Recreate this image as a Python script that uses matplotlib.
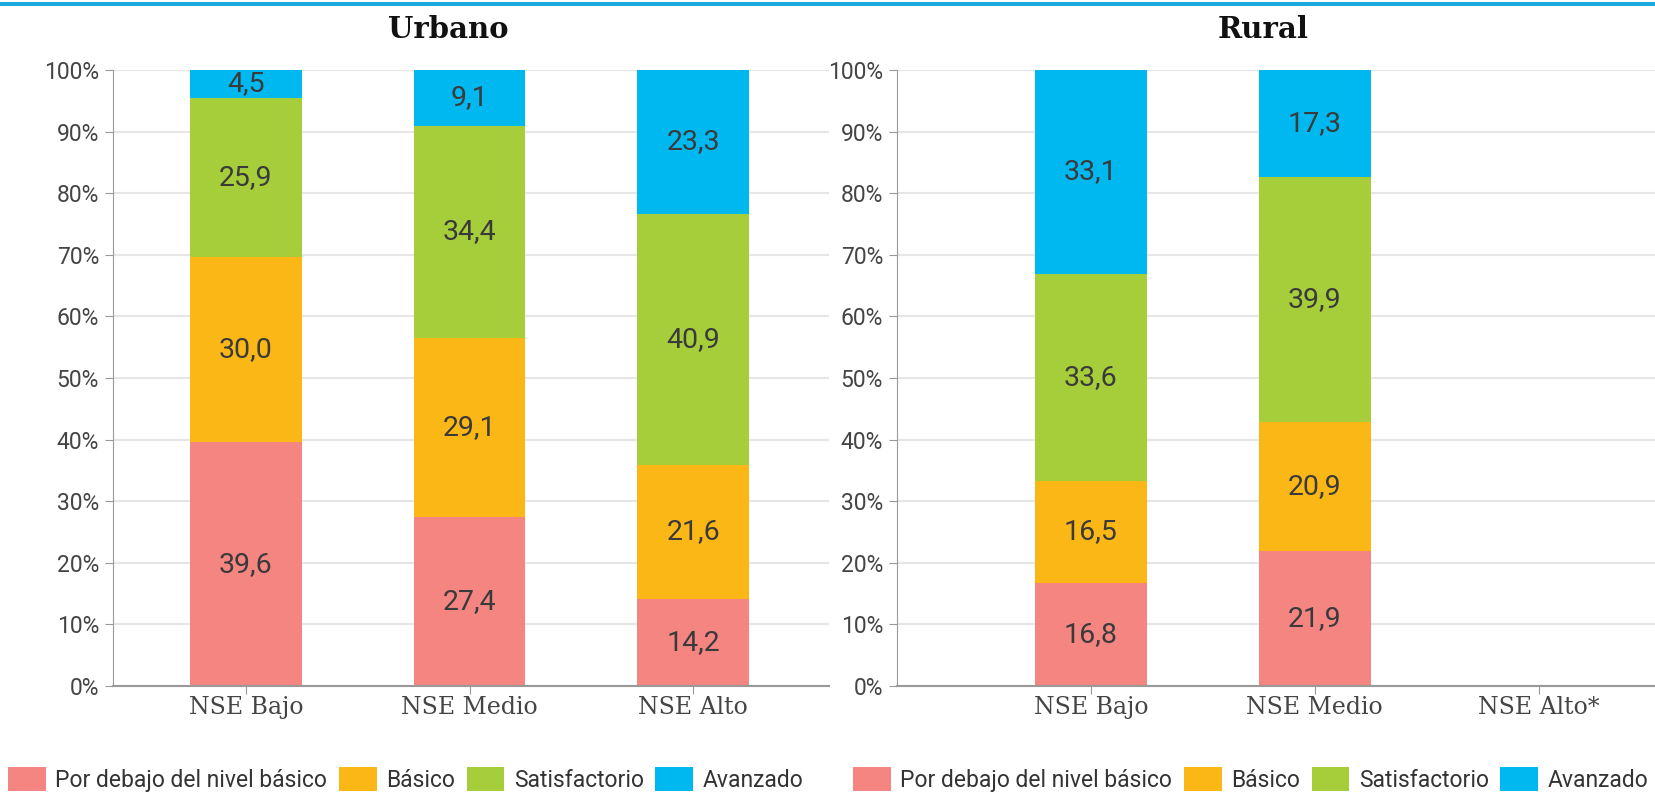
import numpy as np
import matplotlib
matplotlib.use("Agg")
import matplotlib.pyplot as plt
from matplotlib.patches import Patch, Rectangle

# ---- data ----
levels = ["Por debajo del nivel básico", "Básico", "Satisfactorio", "Avanzado"]
colors = ["#F48581", "#FBB715", "#A6CD3A", "#00B8F0"]

urb_categories = ["NSE Bajo", "NSE Medio", "NSE Alto"]
urb_below = [39.6, 27.4, 14.2]
urb_basic = [30.0, 29.1, 21.6]
urb_satis = [25.9, 34.4, 40.9]
urb_adv = [4.5, 9.1, 23.3]

rur_categories = ["NSE Bajo", "NSE Medio", "NSE Alto*"]
rur_below = [16.8, 21.9, np.nan]
rur_basic = [16.5, 20.9, np.nan]
rur_satis = [33.6, 39.9, np.nan]
rur_adv = [33.1, 17.3, np.nan]

yticks = [0, 10, 20, 30, 40, 50, 60, 70, 80, 90, 100]

W, H = 1655, 792
fig = plt.figure(figsize=(W / 100, H / 100), dpi=100)

TXT = "#444444"
SANS = "Roboto"
SERIF = "DejaVu Serif"


def fx(px):
    return px / W


def fy(py):
    return 1 - py / H


def panel(rect, cats, series, title, title_x):
    ax = fig.add_axes(rect)
    x = np.arange(len(cats))
    bottom = np.zeros(len(cats))
    for vals, col in zip(series, colors):
        v = np.array(vals, dtype=float)
        ax.bar(x, np.nan_to_num(v), width=0.5, bottom=bottom, color=col, zorder=2)
        for xi, (b, h) in enumerate(zip(bottom, v)):
            if not np.isnan(h):
                ax.text(xi, b + h / 2, f"{h:.1f}".replace(".", ","), ha="center",
                        va="center", fontsize=20.5, color="#3a3a3a", family=SANS,
                        fontweight="normal", zorder=3)
        bottom = bottom + np.nan_to_num(v)
    ax.set_ylim(0, 100)
    ax.set_yticks(yticks)
    ax.set_yticklabels([f"{t}%" for t in yticks], family=SANS, fontsize=16.5,
                       color=TXT, fontweight="normal")
    ax.set_xticks(x)
    ax.set_xticklabels(cats, family=SERIF, fontsize=17, color=TXT)
    ax.grid(axis="y", color="#e6e6e6", linewidth=1.5, zorder=0)
    ax.set_axisbelow(True)
    for s in ["top", "right"]:
        ax.spines[s].set_visible(False)
    ax.spines["left"].set_color("#999999")
    ax.spines["bottom"].set_color("#999999")
    ax.spines["bottom"].set_linewidth(1.5)
    ax.tick_params(axis="y", length=6, color="#999999", pad=4)
    ax.tick_params(axis="x", length=6, color="#999999", pad=1)
    fig.text(title_x, fy(30), title, ha="center", va="center", family=SERIF,
             fontweight="bold", fontsize=21, color="#111111")
    return ax


ax1 = panel([fx(113), fy(686), fx(829 - 113), (686 - 70) / H], urb_categories,
            [urb_below, urb_basic, urb_satis, urb_adv], "Urbano", fx(448))
ax1.set_xlim(-0.594, 2.607)
ax2 = panel([fx(897), fy(686), fx(1655 - 897), (686 - 70) / H], rur_categories,
            [rur_below, rur_basic, rur_satis, rur_adv], "Rural", fx(1263))
ax2.set_xlim(-0.866, 2.52)

handles = [Patch(facecolor=c, edgecolor="none") for c in colors]
for xa in [fx(8), fx(853)]:
    leg = fig.legend(handles, levels, loc="lower left", bbox_to_anchor=(xa, 0.0),
                     ncol=4, frameon=False, borderpad=0, borderaxespad=0,
                     handlelength=1.65, handleheight=1.25, handletextpad=0.42,
                     columnspacing=0.5,
                     prop={"family": SANS, "size": 16.5, "weight": "normal"})
    for t in leg.get_texts():
        t.set_color("#333333")

# top accent line
fig.add_artist(Rectangle((0, fy(6)), 1, 4 / H, transform=fig.transFigure,
                         facecolor="#1BA9E0", edgecolor="none"))

fig.savefig("out.png", dpi=100)
